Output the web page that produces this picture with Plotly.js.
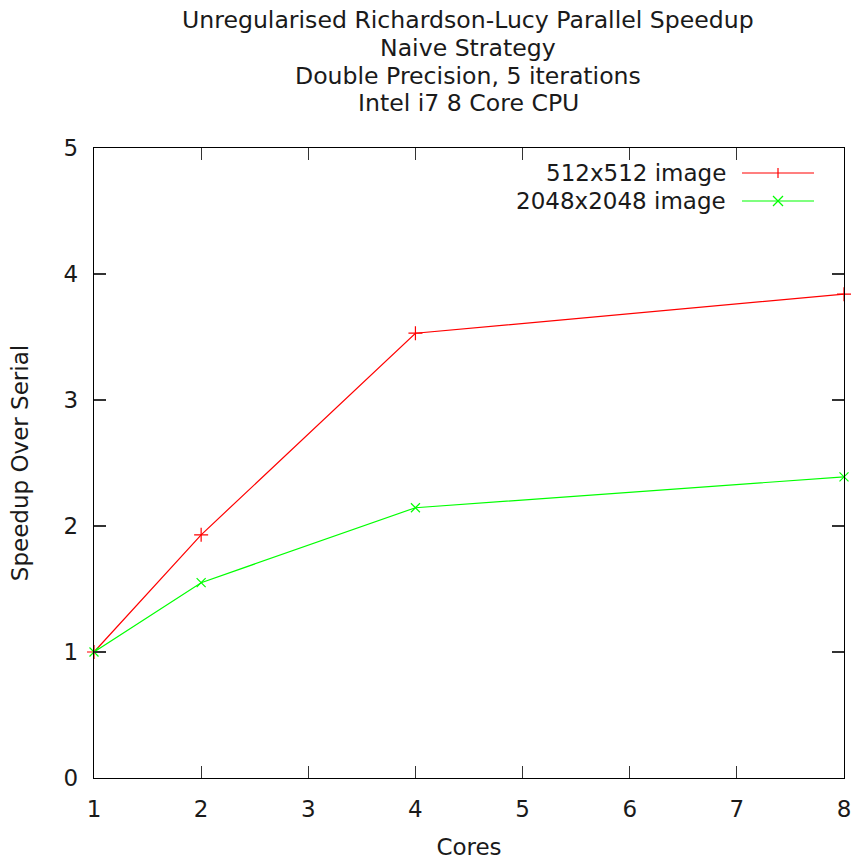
<!DOCTYPE html>
<html>
<head>
<meta charset="utf-8">
<script src="https://cdn.plot.ly/plotly-3.0.1.min.js"></script>
<style>html,body{margin:0;padding:0;background:#fff;}#chart{width:855px;height:860px;}</style>
</head>
<body>
<div id="chart"></div>
<script>
const cores = [1, 2, 4, 8];
const speedup512 = [1.0, 1.93, 3.53, 3.84];
const speedup2048 = [1.0, 1.55, 2.145, 2.39];
const seriesNames = ["512x512 image", "2048x2048 image"];
const xTicks = [1, 2, 3, 4, 5, 6, 7, 8];
const yTicks = [0, 1, 2, 3, 4, 5];
const titleLines = ["Unregularised Richardson-Lucy Parallel Speedup", "Naive Strategy", "Double Precision, 5 iterations", "Intel i7 8 Core CPU"];

const FONT = "DejaVu Sans, sans-serif";
const TXT = "#1a1a1a";
const RED = "#ff0000", GREEN = "#00ff00";

const traces = [
  {x: cores, y: speedup512, name: seriesNames[0], type: "scatter", mode: "lines+markers",
   line: {color: RED, width: 1.2}, marker: {symbol: "cross-thin-open", size: 10, line: {color: RED, width: 1.2}}, cliponaxis: false},
  {x: cores, y: speedup2048, name: seriesNames[1], type: "scatter", mode: "lines+markers",
   line: {color: GREEN, width: 1.2}, marker: {symbol: "x-thin-open", size: 9, line: {color: GREEN, width: 1.2}}, cliponaxis: false}
];

// title lines (gnuplot-style stacked title)
const PH = 630, PW = 750, PT = 148, PL = 94;
const titleY = [20, 48, 76, 103];
const annotations = titleLines.map((t, i) => ({
  text: t, xref: "paper", yref: "paper", x: (468 - PL) / PW, y: (PT + PH - titleY[i]) / PH,
  xanchor: "center", yanchor: "middle", showarrow: false, font: {family: FONT, size: 23.6, color: TXT}
}));

// custom gnuplot-style legend (text left, sample right)
const legRows = [(778 - 173) / PH, (778 - 201) / PH];
const colors = [RED, GREEN];
seriesNames.forEach((n, i) => annotations.push({
  text: n, xref: "paper", yref: "paper", x: (728 - PL) / PW, y: legRows[i], xanchor: "right", yanchor: "middle",
  showarrow: false, font: {family: FONT, size: 23, color: TXT}
}));
const shapes = [];
seriesNames.forEach((n, i) => {
  shapes.push({type: "line", xref: "paper", yref: "paper", x0: (742 - PL) / PW, x1: (814 - PL) / PW, y0: legRows[i], y1: legRows[i], line: {color: colors[i], width: 1.2}});
});
const mx = (778 - PL) / PW, dx = 5 / PW, dy = 5 / PH;
shapes.push({type: "line", xref: "paper", yref: "paper", x0: mx, x1: mx, y0: legRows[0] - dy, y1: legRows[0] + dy, line: {color: RED, width: 1.2}});
shapes.push({type: "line", xref: "paper", yref: "paper", x0: mx - dx, x1: mx + dx, y0: legRows[1] - dy, y1: legRows[1] + dy, line: {color: GREEN, width: 1.2}});
shapes.push({type: "line", xref: "paper", yref: "paper", x0: mx - dx, x1: mx + dx, y0: legRows[1] + dy, y1: legRows[1] - dy, line: {color: GREEN, width: 1.2}});

const axisCommon = {
  showgrid: false, zeroline: false, showline: true, linecolor: "#000", linewidth: 1.3,
  mirror: "ticks", ticks: "inside", ticklen: 12, tickwidth: 1.2, tickcolor: "#333",
  tickfont: {family: FONT, size: 23, color: TXT}, automargin: false
};

const layout = {
  width: 855, height: 860,
  margin: {l: PL, r: 855 - PL - PW, t: PT, b: 860 - PT - PH},
  paper_bgcolor: "#fff", plot_bgcolor: "#fff",
  showlegend: false,
  xaxis: Object.assign({}, axisCommon, {range: [1, 8], tickvals: xTicks, ticktext: xTicks.map(String), ticklabelstandoff: 10,
    title: {text: "Cores", font: {family: FONT, size: 23, color: TXT}, standoff: 22}}),
  yaxis: Object.assign({}, axisCommon, {range: [0, 5], tickvals: yTicks, ticktext: yTicks.map(String), ticklabelstandoff: 10,
    title: {text: "Speedup Over Serial", font: {family: FONT, size: 23, color: TXT}, standoff: 28}}),
  annotations: annotations,
  shapes: shapes
};

Plotly.newPlot("chart", traces, layout, {displayModeBar: false, staticPlot: true});
</script>
</body>
</html>
